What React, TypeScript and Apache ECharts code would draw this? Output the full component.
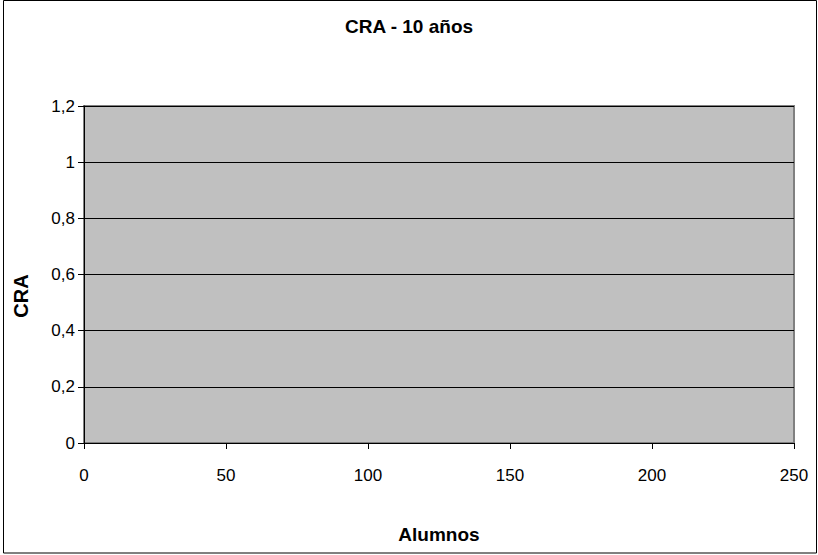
import React, { useEffect, useRef } from "react";
import * as echarts from "echarts";

const titleText = "CRA - 10 años";
const xAxisName = "Alumnos";
const yAxisName = "CRA";
const xMin = 0;
const xMax = 250;
const xStep = 50;
const yMin = 0;
const yMax = 1.2;
const yStep = 0.2;
// The reference chart has no plotted points
const seriesPoints: [number, number][] = [];

export default function App() {
  const ref = useRef<HTMLDivElement>(null);
  useEffect(() => {
    if (!ref.current) return;
    const chart = echarts.init(ref.current, null, { renderer: "svg" });
    const font = "'Liberation Sans', Arial, sans-serif";
    chart.setOption({
      animation: false,
      backgroundColor: "#ffffff",
      textStyle: { fontFamily: font },
      title: {
        text: titleText,
        left: "center",
        top: 12,
        textStyle: { fontFamily: font, fontSize: 19, fontWeight: "bold", color: "#000" },
      },
      graphic: [
        {
          type: "rect",
          shape: { x: 3.5, y: 0.5, width: 813, height: 552.5 },
          style: { fill: "none", stroke: "#000", lineWidth: 1 },
          silent: true,
          z: -1,
        },
        {
          type: "text",
          x: 21,
          y: 296,
          rotation: Math.PI / 2,
          style: {
            text: yAxisName,
            fontFamily: font,
            fontSize: 20,
            fontWeight: "bold",
            fill: "#000",
            align: "center",
            verticalAlign: "middle",
          },
          silent: true,
        },
      ],
      grid: {
        left: 84,
        right: 24,
        top: 106,
        bottom: 112,
        show: true,
        backgroundColor: "#C0C0C0",
        borderColor: "#808080",
        borderWidth: 2,
      },
      xAxis: {
        type: "value",
        min: xMin,
        max: xMax,
        interval: xStep,
        name: xAxisName,
        nameLocation: "middle",
        nameGap: 82,
        nameTextStyle: { fontFamily: font, fontSize: 19, fontWeight: "bold", color: "#000" },
        axisLine: { show: true, lineStyle: { color: "#000", width: 1 } },
        axisTick: { show: true, inside: false, length: 6, lineStyle: { color: "#000" } },
        axisLabel: { fontFamily: font, fontSize: 17, color: "#000", margin: 24 },
        splitLine: { show: false },
      },
      yAxis: {
        type: "value",
        min: yMin,
        max: yMax,
        interval: yStep,
        axisLine: { show: true, lineStyle: { color: "#000", width: 1 } },
        axisTick: { show: true, inside: false, length: 6, lineStyle: { color: "#000" } },
        axisLabel: {
          fontFamily: font,
          fontSize: 17,
          color: "#000",
          margin: 9,
          formatter: (v: number) => String(Math.round(v * 10) / 10).replace(".", ","),
        },
        splitLine: { show: true, lineStyle: { color: "#000", width: 1 } },
      },
      series: [
        {
          type: "scatter",
          data: seriesPoints,
          symbolSize: 6,
          itemStyle: { color: "#000080" },
        },
      ],
    });
    return () => chart.dispose();
  }, []);
  return (
    <div
      ref={ref}
      style={{ position: "absolute", left: 0, top: 0, width: 818, height: 555 }}
    />
  );
}
